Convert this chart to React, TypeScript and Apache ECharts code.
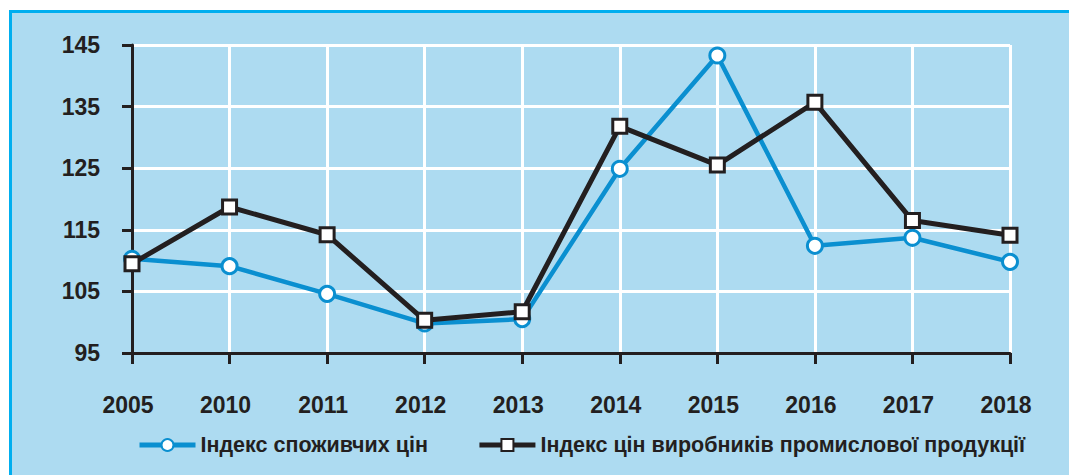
import React, { useEffect, useRef } from "react";
import * as echarts from "echarts";

const years = ["2005", "2010", "2011", "2012", "2013", "2014", "2015", "2016", "2017", "2018"];
const cpi = [110.3, 109.1, 104.6, 99.8, 100.5, 124.9, 143.3, 112.4, 113.7, 109.8];
const ppi = [109.5, 118.7, 114.2, 100.3, 101.7, 131.8, 125.5, 135.7, 116.5, 114.1];
const cpiName = "Індекс споживчих цін";
const ppiName = "Індекс цін виробників промислової продукції";

export default function App() {
  const ref = useRef<HTMLDivElement>(null);
  useEffect(() => {
    if (!ref.current) return;
    const chart = echarts.init(ref.current, undefined, { renderer: "svg" });
    const font = "'Liberation Sans', Arial, sans-serif";
    chart.setOption({
      animation: false,
      backgroundColor: "transparent",
      textStyle: { fontFamily: font },
      grid: { left: 132, top: 45, right: 59, bottom: 122, containLabel: false },
      legend: {
        bottom: 19,
        left: 137,
        padding: 0,
        itemWidth: 56,
        itemHeight: 15,
        itemGap: 49,
        lineStyle: { width: 5 },
        textStyle: {
          fontFamily: font,
          fontWeight: "bold",
          fontSize: 21.5,
          color: "#231f20",
        },
        data: [cpiName, ppiName],
      },
      xAxis: {
        type: "category",
        data: years,
        boundaryGap: false,
        axisLine: { show: true, lineStyle: { color: "#231f20", width: 3 } },
        axisTick: { show: true, length: 11, alignWithLabel: true, lineStyle: { color: "#231f20", width: 3 } },
        axisLabel: {
          color: "#231f20",
          fontSize: 23,
          fontWeight: "bold",
          margin: 40,
          fontFamily: font,
          padding: [0, 8, 0, 0],
        },
        splitLine: { show: true, lineStyle: { color: "#ffffff", width: 3 } },
      },
      yAxis: {
        type: "value",
        min: 95,
        max: 145,
        interval: 10,
        axisLine: { show: true, lineStyle: { color: "#231f20", width: 3 } },
        axisTick: { show: true, length: 10, lineStyle: { color: "#231f20", width: 3 } },
        axisLabel: { color: "#231f20", fontSize: 23, fontWeight: "bold", margin: 32, fontFamily: font },
        splitLine: { show: true, lineStyle: { color: "#ffffff", width: 3 } },
      },
      series: [
        {
          name: cpiName,
          type: "line",
          data: cpi,
          symbol: "circle",
          symbolSize: 15,
          lineStyle: { color: "#0a8fd0", width: 4.5 },
          itemStyle: { color: "#ffffff", borderColor: "#0a8fd0", borderWidth: 3 },
          z: 2,
        },
        {
          name: ppiName,
          type: "line",
          data: ppi,
          symbol: "rect",
          symbolSize: 14,
          lineStyle: { color: "#231f20", width: 5 },
          itemStyle: { color: "#ffffff", borderColor: "#231f20", borderWidth: 3 },
          z: 3,
        },
      ],
    });
    return () => chart.dispose();
  }, []);
  return (
    <div style={{ position: "fixed", left: 0, top: 0, width: 1069, height: 475, background: "#ffffff" }}>
      <div
        style={{
          position: "absolute",
          left: 9,
          top: 10,
          right: 0,
          bottom: 0,
          background: "#addbf1",
          borderLeft: "3px solid #00aeef",
          borderTop: "3px solid #00aeef",
        }}
      />
      <div ref={ref} style={{ position: "absolute", left: 0, top: 0, width: 1069, height: 475 }} />
    </div>
  );
}
